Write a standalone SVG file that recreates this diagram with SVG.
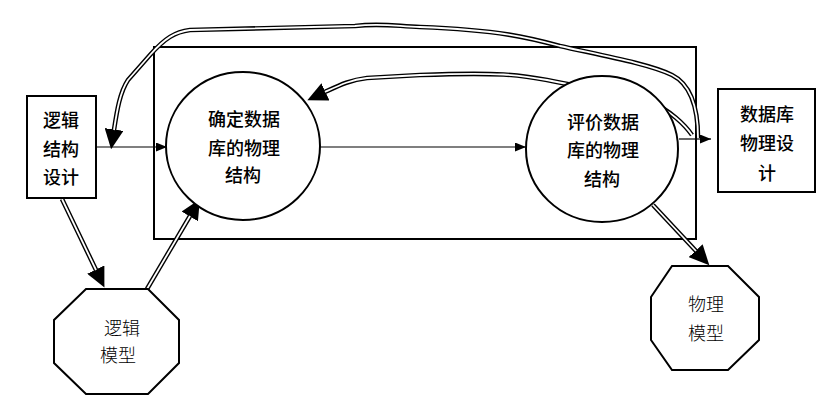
<svg xmlns="http://www.w3.org/2000/svg" width="837" height="408" viewBox="0 0 837 408">
<style>
.sh{fill:#fff;stroke:#000;stroke-width:2}
.frame{fill:none;stroke:#000;stroke-width:2}
.t{font-family:"Noto Sans CJK SC","Noto Sans",sans-serif;font-size:18px;fill:#000;text-anchor:middle;dominant-baseline:central;font-weight:500}
.tl{font-family:"Noto Sans CJK SC","Noto Sans",sans-serif;font-size:18px;fill:#000;text-anchor:middle;dominant-baseline:central;font-weight:300}
.ln{fill:none;stroke:#000;stroke-width:1.2}
.dbo{fill:none;stroke:#000;stroke-width:4.6;stroke-linejoin:round}
.dbi{fill:none;stroke:#fff;stroke-width:1.8;stroke-linejoin:round}
</style>
<defs>
<marker id="arr" markerUnits="userSpaceOnUse" markerWidth="11" markerHeight="9" viewBox="0 0 11 9" refX="11" refY="4.5" orient="auto">
<path d="M0,0 L11,4.5 L0,9 z" fill="#000"/>
</marker>
<marker id="big" markerUnits="userSpaceOnUse" markerWidth="20" markerHeight="19" viewBox="0 0 20 19" refX="0.5" refY="9.5" orient="auto">
<path d="M0,0 L20,9.5 L0,19 z" fill="#000"/>
</marker>
</defs>
<rect class="frame" x="154" y="47" width="542" height="192"/>
<g id="connectors">
<path class="ln" d="M87,147 L167,147" marker-end="url(#arr)"/>
<path class="ln" d="M320,147 L526,147" marker-end="url(#arr)"/>
<path class="ln" d="M679,139 L711,139" marker-end="url(#arr)"/>
<path class="dbo" d="M698,138 C698,110 692,85 672,75 C650,64 600,55 560,46 C530,38 500,30 420,27 C395,26 380,23 355,26 L190,30 C175,32 165,38 150,55 L128,80 C120,92 117,110 114,130" marker-end="url(#big)"/>
<path class="dbi" d="M698,138 C698,110 692,85 672,75 C650,64 600,55 560,46 C530,38 500,30 420,27 C395,26 380,23 355,26 L190,30 C175,32 165,38 150,55 L128,80 C120,92 117,110 114,130"/>
<path class="dbo" d="M692,135 C685,125 670,110 650,102 C620,92 580,87 547,80 C520,75 500,72 420,75 L367,78 C350,80 340,85 325,92" marker-end="url(#big)"/>
<path class="dbi" d="M692,135 C685,125 670,110 650,102 C620,92 580,87 547,80 C520,75 500,72 420,75 L367,78 C350,80 340,85 325,92"/>
<path class="dbo" d="M62,199 L96,270" marker-end="url(#big)"/>
<path class="dbi" d="M62,199 L96,270"/>
<path class="dbo" d="M147,289 L190,216" marker-end="url(#big)"/>
<path class="dbi" d="M147,289 L190,216"/>
<path class="dbo" d="M653,205 L696,251" marker-end="url(#big)"/>
<path class="dbi" d="M653,205 L696,251"/>
</g>
<g id="n-logic-design">
<rect class="sh" x="27" y="96" width="69" height="102"/>
<text class="t" x="61" y="119">逻辑</text>
<text class="t" x="61" y="148">结构</text>
<text class="t" x="61" y="176">设计</text>
</g>
<g id="n-determine">
<ellipse class="sh" cx="243" cy="146" rx="77" ry="74"/>
<text class="t" x="244" y="118">确定数据</text>
<text class="t" x="244" y="147">库的物理</text>
<text class="t" x="243" y="174">结构</text>
</g>
<g id="n-evaluate">
<ellipse class="sh" cx="602" cy="149" rx="76" ry="73"/>
<text class="t" x="603" y="121">评价数据</text>
<text class="t" x="603" y="149">库的物理</text>
<text class="t" x="602" y="178">结构</text>
</g>
<g id="n-phys-design">
<rect class="sh" x="718" y="89" width="97" height="103"/>
<text class="t" x="767" y="113">数据库</text>
<text class="t" x="767" y="142">物理设</text>
<text class="t" x="767" y="172">计</text>
</g>
<g id="n-logic-model">
<polygon class="sh" points="86,289 148,289 179,320 179,363 148,394 86,394 54,363 54,320"/>
<text class="tl" x="122" y="327">逻辑</text>
<text class="tl" x="118" y="354">模型</text>
</g>
<g id="n-phys-model">
<polygon class="sh" points="672,266 728,266 759,297 759,340 728,370 672,370 651,340 651,297"/>
<text class="tl" x="706" y="303">物理</text>
<text class="tl" x="706" y="332">模型</text>
</g>
</svg>
